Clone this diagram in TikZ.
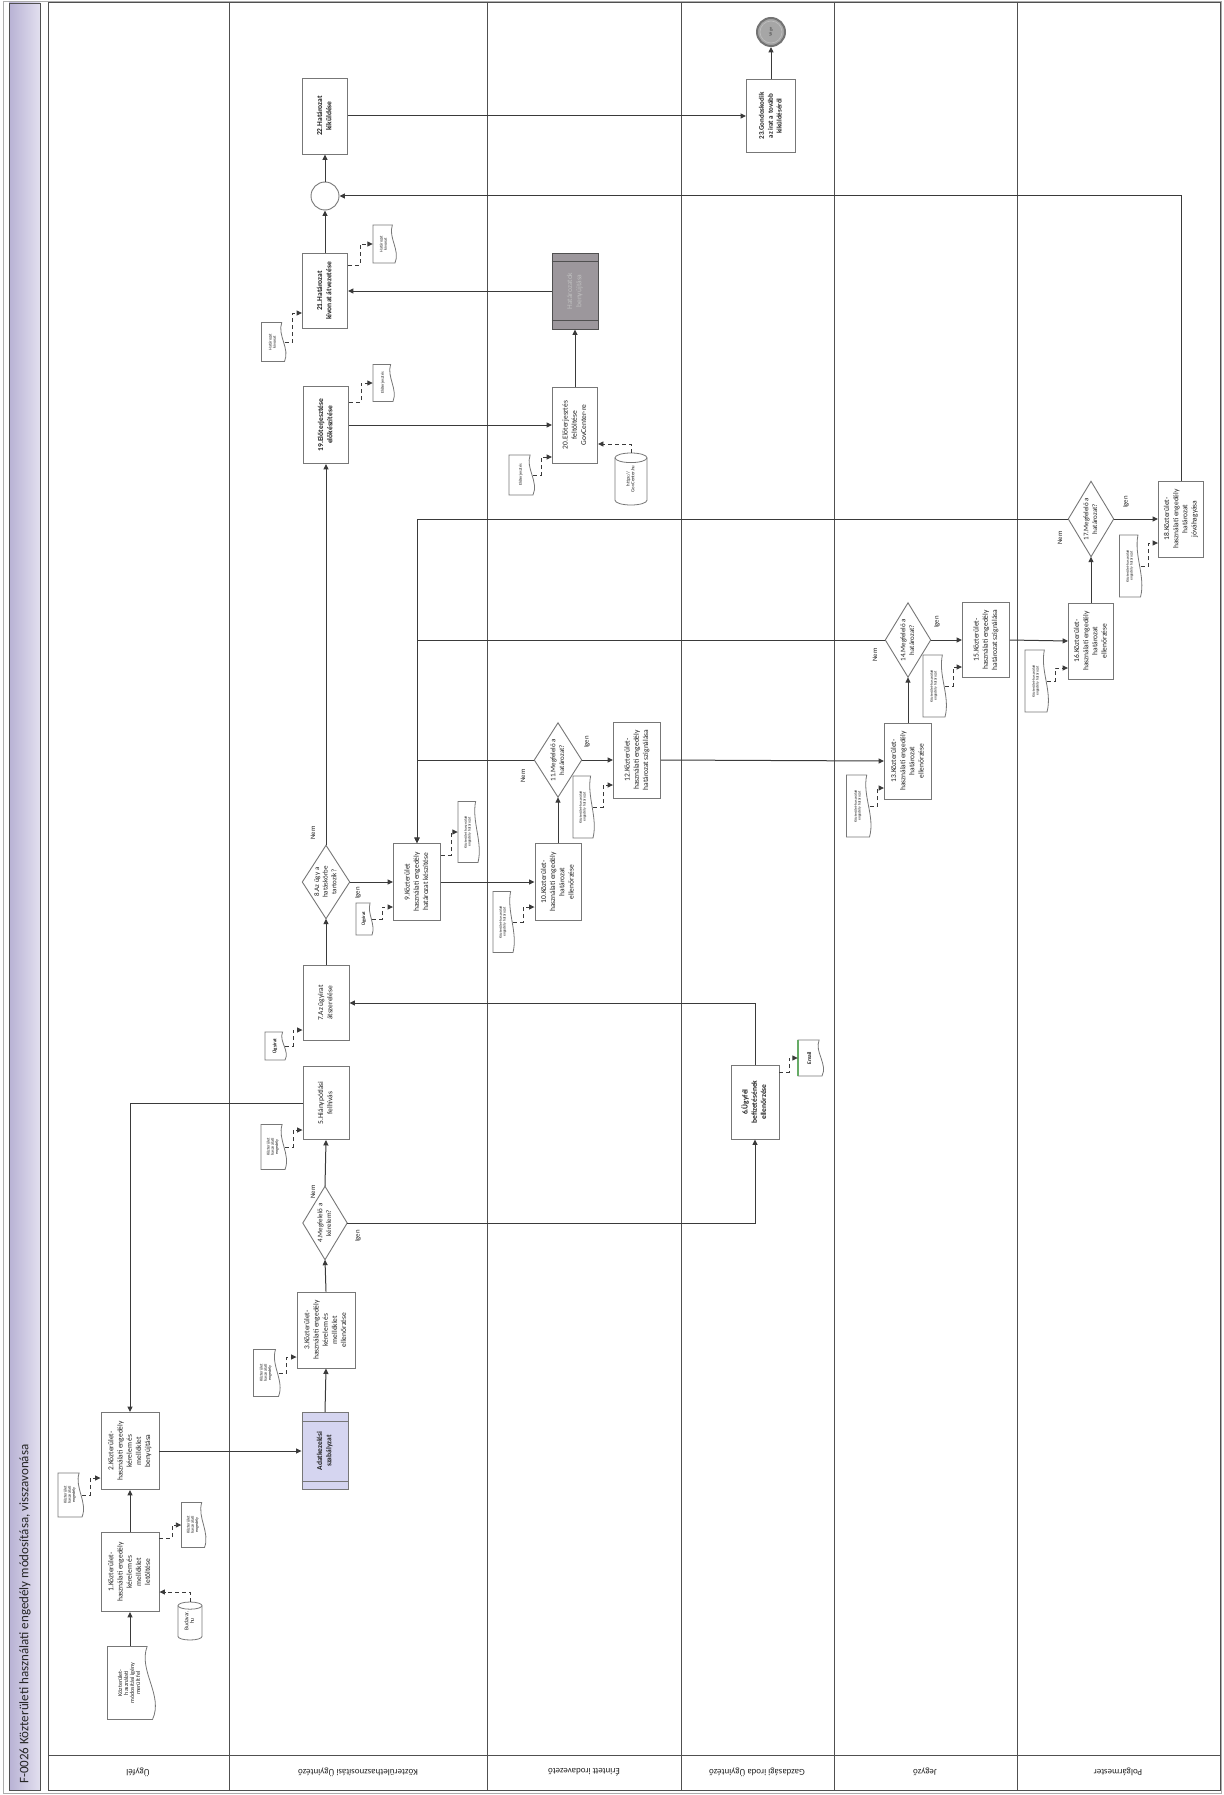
\documentclass[tikz,border=0pt]{standalone}
\usepackage{fontspec}
\setmainfont{Carlito}
\usepackage{graphicx}
\usetikzlibrary{arrows.meta,calc}
\definecolor{linec}{HTML}{3A3A3A}
\definecolor{boxc}{HTML}{777777}
\definecolor{framec}{HTML}{505050}
\definecolor{txt}{HTML}{222222}
\definecolor{subfill}{HTML}{D5D5F0}
\definecolor{greyfill}{HTML}{9C979C}
\definecolor{strip1}{HTML}{B8B2D4}
\definecolor{strip2}{HTML}{E2DFEF}
\newcommand{\rl}[1]{\rotatebox{90}{\begin{tabular}{@{}c@{}}#1\end{tabular}}}
\newcommand{\docshape}[4]{%
  \pgfmathsetmacro\mydL{#1-#3/2}\pgfmathsetmacro\mydR{#1+#3/2}%
  \pgfmathsetmacro\mydT{#2-#4/2}\pgfmathsetmacro\mydB{#2+#4/2}%
  \pgfmathsetmacro\mydW{#1+#3/2-#3*0.12}%
  \pgfmathsetmacro\mydCa{#1+#3/2+#3*0.25}\pgfmathsetmacro\mydCb{#1+#3/2-#3*0.32}%
  \pgfmathsetmacro\mydYa{#2-#4/6}\pgfmathsetmacro\mydYb{#2+#4/6}%
  \draw[shapeline] (\mydL,\mydT) -- (\mydW,\mydT) .. controls (\mydCb,\mydYa) and (\mydCa,\mydYb) .. (\mydR,\mydB) -- (\mydL,\mydB) -- cycle;}
\newcommand{\docn}[7][4.2]{\docshape{#3}{#4}{#5}{#6}%
  \node[inner sep=0pt, text=txt, font=\fontsize{#1}{#1}\selectfont, minimum width=#5pt, minimum height=#6pt] (#2) at (#3,#4) {\rl{#7}};}
\newcommand{\cylshape}[4]{%
  \pgfmathsetmacro\mycL{#1-#3/2}\pgfmathsetmacro\mycR{#1+#3/2}%
  \pgfmathsetmacro\mycT{#2-#4/2+#3*0.15}\pgfmathsetmacro\mycB{#2+#4/2-#3*0.15}%
  \pgfmathsetmacro\mycRx{#3/2}\pgfmathsetmacro\mycRy{#3*0.15}%
  \draw[shapeline] (\mycL,\mycT) -- (\mycL,\mycB) arc[start angle=180,end angle=360,x radius=\mycRx pt,y radius=\mycRy pt] -- (\mycR,\mycT);
  \draw[shapeline] (#1,\mycT) ellipse[x radius=\mycRx pt, y radius=\mycRy pt];}
\newcommand{\cyln}[7][4.8]{\cylshape{#3}{#4}{#5}{#6}%
  \node[inner sep=0pt, text=txt, font=\fontsize{#1}{#1}\selectfont, minimum width=#5pt, minimum height=#6pt] (#2) at (#3,#4) {\rl{#7}};}
\tikzset{
  shapeline/.style={draw=boxc, line width=0.8pt, fill=white},
  box/.style={draw=boxc, line width=0.9pt, fill=white, inner sep=0pt, text=txt, font=\fontsize{7.5}{9.2}\selectfont},
  boldbox/.style={box, font=\bfseries\fontsize{7.5}{9.2}\selectfont},
  dectext/.style={inner sep=0pt, text=txt, font=\fontsize{7}{8.6}\selectfont},
  decline/.style={draw=boxc, line width=0.9pt, fill=white},
  flow/.style={draw=linec, line width=1pt, -{Triangle[length=5.5pt,width=5pt]}},
  assoc/.style={draw=linec, line width=0.9pt, dash pattern=on 4pt off 3pt, -{Triangle[length=5.5pt,width=5pt]}},
  lbl/.style={inner sep=0pt, text=txt, font=\fontsize{6.8}{8}\selectfont},
  lanelbl/.style={inner sep=0pt, text=txt, font=\fontsize{9}{10}\selectfont},
}
\newcommand{\decision}[6]{% name x y w h text
  \node[dectext, minimum width=#4pt, minimum height=#5pt] (#1) at (#2,#3) {};
  \draw[decline] (#1.north) -- (#1.east) -- (#1.south) -- (#1.west) -- cycle;
  \node[dectext] at (#2,#3) {\rl{#6}};}
\begin{document}
\begin{tikzpicture}[x=1pt,y=-1pt]
\useasboundingbox (0,0) rectangle (1223,1795);
\fill[white] (0,0) rectangle (1223,1795);
% title strip and lanes
\draw[boxc!60, line width=0.6pt] (3,1) rectangle (1221,1793);
\shade[left color=strip1, right color=strip2] (9,3) rectangle (40,1790);
\draw[framec, line width=0.8pt] (9,3) rectangle (40,1790);
\node[inner sep=0pt, anchor=south, text=black!85, font=\fontsize{13}{14}\selectfont] (title) at (25,1784) {\rotatebox{90}{F-0026 Közterületi használati engedély módosítása, visszavonása}};
\draw[framec, line width=1pt] (48,3) rectangle (1220,1790);
\foreach \x in {229,487,681,834,1017} \draw[framec, line width=0.9pt] (\x,3) -- (\x,1790);
\draw[framec, line width=0.9pt] (48,1755) -- (1220,1755);
\node[lanelbl] (l1) at (138,1772) {\rotatebox{180}{Ügyfél}};
\node[lanelbl] (l2) at (358,1772) {\rotatebox{180}{Közterülethasznosítási Ügyintéző}};
\node[lanelbl] (l3) at (584,1772) {\rotatebox{180}{Érintett irodavezető}};
\node[lanelbl] (l4) at (757,1772) {\rotatebox{180}{Gazdasági iroda Ügyintéző}};
\node[lanelbl] (l5) at (925,1772) {\rotatebox{180}{Jegyző}};
\node[lanelbl] (l6) at (1118,1772) {\rotatebox{180}{Polgármester}};

% ---- Ügyfél lane
\docn[6]{sd}{130}{1683}{45}{73}{Közterület-\\használati\\módosítási igény\\merült fel}
\node[box, minimum width=58pt, minimum height=79pt] (n1) at (130,1572) {\rl{1.Közterület-\\használati engedély\\kérelem és\\melléklet\\letöltése}};
\node[box, minimum width=58pt, minimum height=77pt] (n2) at (130,1451) {\rl{2.Közterület-\\használati engedély\\kérelem és\\melléklet\\benyújtása}};
\cyln[5.6]{cb}{190}{1621}{24}{38}{Budavar.\\hu}
\docn{da}{193}{1525}{23}{45}{Közterület\\használati\\engedély}
\docn{db}{70}{1495}{24}{44}{Közterület\\használati\\engedély}

% ---- Közterülethasznosítási ügyintéző lane
\node[boldbox, fill=subfill, minimum width=46pt, minimum height=77pt] (s1) at (325,1451) {\rl{Adatkezelési\\szabályzat}};
\draw[boxc, line width=0.7pt] ($(s1.north west)+(0,9)$) -- ($(s1.north east)+(0,9)$);
\draw[boxc, line width=0.7pt] ($(s1.south west)+(0,-9)$) -- ($(s1.south east)+(0,-9)$);
\node[box, minimum width=58pt, minimum height=76pt] (n3) at (326,1330) {\rl{3.Közterület-\\használati engedély\\kérelem és\\melléklet\\ellenőrzése}};
\docn{dc}{266}{1373}{25}{47}{Közterület\\használati\\engedély}
\decision{d4}{325}{1223}{44}{73}{4.Megfelelő a\\kérelem?}
\node[box, minimum width=46pt, minimum height=73pt] (n5) at (326,1103) {\rl{5.Hiánypótlási\\felhívás}};
\docn{dd}{273}{1147}{24}{45}{Közterület\\használati\\engedély}
\node[box, minimum width=46pt, minimum height=75pt] (n7) at (326,1003) {\rl{7.Az ügyirat\\átszerelése}};
\docn[5]{du1}{275}{1046}{20}{28}{\bfseries Ügyirat}
\decision{d8}{326}{882}{47}{73}{8.Az ügy a\\hatáskörbe\\tartozik?}
\node[box, minimum width=47pt, minimum height=77pt] (n9) at (417,882) {\rl{9.Közterület\\használati engedély\\határozat készítése}};
\docn[4.6]{du2}{364}{919}{16}{32}{\bfseries Ügyirat}
\docn[3.8]{dh9}{468}{832}{20}{61}{Közterület használati\\engedély határozat}
\node[boldbox, minimum width=45pt, minimum height=77pt] (n19) at (326,425) {\rl{19.Előterjesztése\\előkészítése}};
\docn{de19}{383}{383}{20}{37}{Előterjesztés}
\node[boldbox, minimum width=45pt, minimum height=75pt] (n21) at (325,291) {\rl{21.Határozat\\kivonat átvezetése}};
\docn{dk1}{384}{244}{22}{38}{Határozat\\kivonat}
\docn{dk2}{273}{342}{23}{39}{Határozat\\kivonat}
\node[circle, draw=boxc, line width=0.9pt, fill=white, minimum size=28pt, inner sep=0pt] (mg) at (325,196) {};
\node[boldbox, minimum width=45pt, minimum height=76pt] (n22) at (325,116) {\rl{22.Határozat\\kiküldése}};

% ---- Érintett irodavezető lane
\node[box, minimum width=46pt, minimum height=77pt] (n10) at (558,882) {\rl{10.Közterület-\\használati engedély\\határozat\\ellenőrzése}};
\docn[3.8]{dh10}{503}{922}{20}{61}{Közterület-használati\\engedély határozat}
\decision{d11}{558}{760}{47}{74}{11.Megfelelő a\\határozat?}
\node[box, minimum width=47pt, minimum height=76pt] (n12) at (637,760) {\rl{12.Közterület-\\használati engedély\\határozat szignálása}};
\docn[3.8]{dh11}{583}{807}{20}{62}{Közterület-használati\\engedély határozat}
\node[box, minimum width=45pt, minimum height=76pt] (n20) at (575,425) {\rl{20.Előterjesztés\\feltöltése\\GovCenter-re}};
\docn{de20}{521}{475}{24}{40}{Előterjesztés}
\cyln{cg}{631}{479}{32}{52}{https://\\GovCenter.hu}
\node[box, draw=framec, fill=greyfill, text=black!25, minimum width=46pt, minimum height=76pt] (s2) at (575,291) {\rl{Határozatok\\benyújtása}};
\draw[framec, line width=0.7pt] ($(s2.north west)+(0,9)$) -- ($(s2.north east)+(0,9)$);
\draw[framec, line width=0.7pt] ($(s2.south west)+(0,-9)$) -- ($(s2.south east)+(0,-9)$);

% ---- Gazdasági iroda lane
\node[boldbox, minimum width=48pt, minimum height=74pt] (n6) at (755,1102) {\rl{6.Ügyfél\\befizetésének\\ellenőrzése}};
\docn[5.5]{em}{810}{1058}{24}{36}{\bfseries Email}
\draw[green!45!black!60, line width=1.2pt] (798,1040) -- (798,1076);
\node[boldbox, minimum width=49pt, minimum height=73pt, font=\bfseries\fontsize{7}{8.8}\selectfont] (n23) at (771,116) {\rl{23.Gondoskodik\\az irat a tovább\\kiküldéséről}};
\node[circle, draw=black!55, line width=2pt, fill=black!35, minimum size=28pt, inner sep=0pt, font=\fontsize{4.5}{4.5}\selectfont, text=black!70] (end) at (771,32) {\rotatebox{90}{Vége}};
\draw[black!25, line width=0.6pt] (end.center) circle (11pt);

% ---- Jegyző lane
\node[box, minimum width=47pt, minimum height=76pt] (n13) at (908,761) {\rl{13.Közterület-\\használati engedély\\határozat\\ellenőrzése}};
\docn[3.8]{dh13}{858}{806}{23}{62}{Közterület-használati\\engedély határozat}
\decision{d14}{908}{640}{45}{74}{14.Megfelelő a\\határozat?}
\node[box, minimum width=47pt, minimum height=75pt] (n15) at (986,640) {\rl{15.Közterület-\\használati engedély\\határozat szignálása}};
\docn[3.8]{dh14}{934}{686}{22}{62}{Közterület-használati\\engedély határozat}

% ---- Polgármester lane
\node[box, minimum width=45pt, minimum height=76pt] (n16) at (1091,641) {\rl{16.Közterület-\\használati engedély\\határozat\\ellenőrzése}};
\docn[3.8]{dh16}{1036}{681}{22}{62}{Közterület-használati\\engedély határozat}
\decision{d17}{1091}{519}{45}{75}{17.Megfelelő a\\határozat?}
\node[box, minimum width=45pt, minimum height=76pt] (n18) at (1181,519) {\rl{18.Közterület-\\használati engedély\\határozat\\jóváhagyása}};
\docn[3.8]{dh17}{1130}{566}{21}{62}{Közterület-használati\\engedély határozat}

% ---- labels
\node[lbl] (nem4) at (313,1192) {\rotatebox{90}{Nem}};
\node[lbl] (igen4) at (358,1236) {\rotatebox{90}{Igen}};
\node[lbl] (nem8) at (313,833) {\rotatebox{90}{Nem}};
\node[lbl] (igen8) at (358,893) {\rotatebox{90}{Igen}};
\node[lbl] (nem11) at (523,776) {\rotatebox{90}{Nem}};
\node[lbl] (igen11) at (587,742) {\rotatebox{90}{Igen}};
\node[lbl] (nem14) at (875,655) {\rotatebox{90}{Nem}};
\node[lbl] (igen14) at (937,622) {\rotatebox{90}{Igen}};
\node[lbl] (nem17) at (1060,538) {\rotatebox{90}{Nem}};
\node[lbl] (igen17) at (1126,502) {\rotatebox{90}{Igen}};

% ---- flows
\draw[flow] (sd.north) -- (n1.south);
\draw[flow] (n1.north) -- (n2.south);
\draw[flow] (n2.east) -- (s1.west);
\draw[flow] (s1.north) -- (n3.south);
\draw[flow] (n3.north) -- (d4.south);
\draw[flow] (d4.north) -- (n5.south);
\draw[flow] (n5.west) -| (n2.north);
\draw[flow] (d4.east) -| (n6.south);
\draw[flow] (n6.north) |- (n7.east);
\draw[flow] (n7.north) -- (d8.south);
\draw[flow] (d8.east) -- (n9.west);
\draw[flow] (d8.north) -- (n19.south);
\draw[flow] (n9.east) -- (n10.west);
\draw[flow] (n10.north) -- (d11.south);
\draw[flow] (d11.east) -- (n12.west);
\draw[flow] (d11.west) -| (n9.north);
\draw[flow] (d14.west) -| (n9.north);
\draw[flow] (d17.west) -| (n9.north);
\draw[flow] (n12.east) -- (n13.west);
\draw[flow] (n13.north) -- (d14.south);
\draw[flow] (d14.east) -- (n15.west);
\draw[flow] (n15.east) -- (n16.west);
\draw[flow] (n16.north) -- (d17.south);
\draw[flow] (d17.east) -- (n18.west);
\draw[flow] (n18.north) |- (mg.east);
\draw[flow] (n19.east) -- (n20.west);
\draw[flow] (n20.north) -- (s2.south);
\draw[flow] (s2.west) -- (n21.east);
\draw[flow] (n21.north) -- (mg.south);
\draw[flow] (mg.north) -- (n22.south);
\draw[flow] (n22.east) -- (n23.west);
\draw[flow] (n23.north) -- (end.south);

% ---- associations
\draw[assoc] (cb.north) |- ($(n1.east)+(0,20)$);
\draw[assoc] ($(n1.east)+(0,-34)$) -- ++(13,0) |- (da.west);
\draw[assoc] (db.east) -- ++(8,0) |- ($(n2.west)+(0,27)$);
\draw[assoc] (dc.east) -- ++(8,0) |- ($(n3.west)+(0,27)$);
\draw[assoc] (dd.east) -- ++(8,0) |- ($(n5.west)+(0,27)$);
\draw[assoc] (du1.east) -- ++(8,0) |- ($(n7.west)+(0,27)$);
\draw[assoc] (du2.east) -- ++(10,0) |- ($(n9.west)+(0,25)$);
\draw[assoc] ($(n9.east)+(0,-27)$) -- ++(10,0) |- (dh9.west);
\draw[assoc] (dh10.east) -- ++(10,0) |- ($(n10.west)+(0,25)$);
\draw[assoc] (dh11.east) -- ++(10,0) |- ($(n12.west)+(0,25)$);
\draw[assoc] (dh13.east) -- ++(8,0) |- ($(n13.west)+(0,27)$);
\draw[assoc] (dh14.east) -- ++(8,0) |- ($(n15.west)+(0,27)$);
\draw[assoc] (dh16.east) -- ++(8,0) |- ($(n16.west)+(0,27)$);
\draw[assoc] (dh17.east) -- ++(8,0) |- ($(n18.west)+(0,24)$);
\draw[assoc] ($(n19.east)+(0,-23)$) -- ++(12,0) |- (de19.west);
\draw[assoc] ($(n21.east)+(0,-26)$) -- ++(12,0) |- (dk1.west);
\draw[assoc] (dk2.east) -- ++(8,0) |- ($(n21.west)+(0,22)$);
\draw[assoc] (de20.east) -- ++(8,0) |- ($(n20.west)+(0,32)$);
\draw[assoc] (cg.north) |- ($(n20.east)+(0,19)$);
\draw[assoc] ($(n6.east)+(0,-30)$) -- ++(10,0) |- (em.west);
\end{tikzpicture}
\end{document}
